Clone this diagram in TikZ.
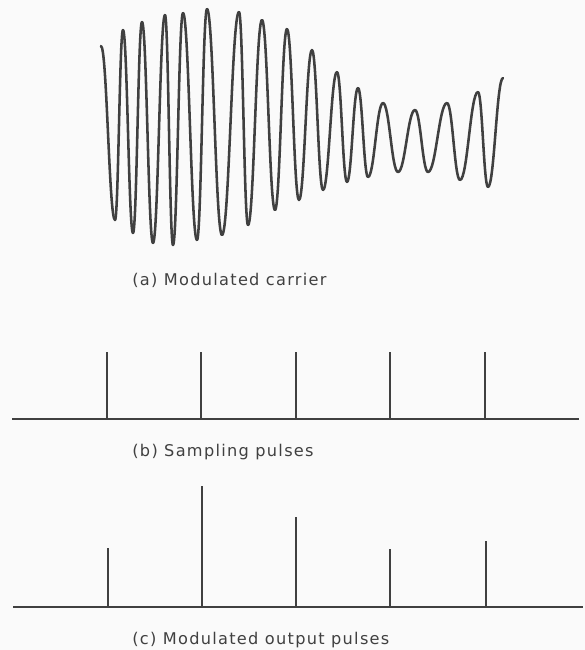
\documentclass[tikz,border=0pt]{standalone}
\usepackage{fontspec}
\newfontfamily\labelfont[LetterSpace=8]{DejaVu Sans}
\definecolor{ink}{RGB}{64,64,64}
\definecolor{paper}{RGB}{250,250,250}

\tikzset{
  wave/.style={draw=ink,line width=1.45pt,line cap=round,line join=round},
  pulse/.style={draw=ink,line width=1.15pt},
  baseline/.style={draw=ink,line width=1.25pt},
  caption/.style={anchor=west,inner sep=0pt,text=ink,font=\labelfont\fontsize{9.2}{11}\selectfont}
}

\begin{document}
\begin{tikzpicture}[x=0.02cm,y=-0.02cm]
  \fill[paper] (0,0) rectangle (585,650);
  \useasboundingbox (0,0) rectangle (585,650);

  % (a) carrier, one half cycle per step
  \foreach \x/\y [remember=\x as \px (initially 101),
                  remember=\y as \py (initially 46)] in
    {115/220,123/30,133/233,142/22,153/243,165/15,173/245,183/13,
     197/240,207/9,222/235,239/12,248/225,262/20,275/210,287/29,
     299/200,312/50,323/190,337/72,347/182,358/88,368/177,383/103,
     398/172,415/110,428/172,447/103,460/180,478/92,488/187,503/78}
    \draw[wave] (\px,\py) .. controls ({\px+0.42*(\x-\px)},\py)
                and ({\x-0.42*(\x-\px)},\y) .. (\x,\y);
  \node[caption] (lblcarrier) at (132,280) {(a) Modulated carrier};

  % (b) sampling pulses
  \draw[baseline] (12,419) -- (579,419);
  \foreach \x in {107,201,296,390,485}
    \draw[pulse] (\x,419) -- (\x,352);
  \node[caption] (lblsampling) at (132,452) {(b) Sampling pulses};

  % (c) output pulses, heights taken off the carrier
  \draw[baseline] (13,607) -- (583,607);
  \foreach \x/\h in {108/548,202/486,296/517,390/549,486/541}
    \draw[pulse] (\x,607) -- (\x,\h);
  \node[caption] (lbloutput) at (132,640) {(c) Modulated output pulses};
\end{tikzpicture}
\end{document}
